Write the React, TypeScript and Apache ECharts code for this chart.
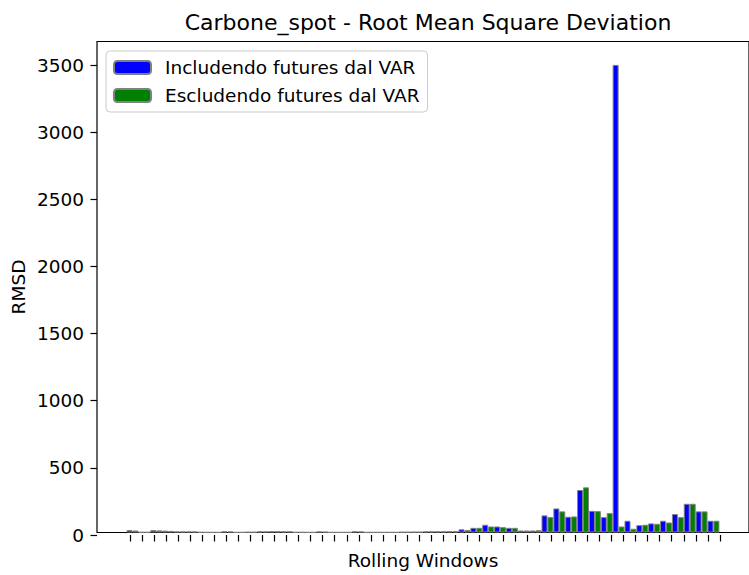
import React, { useEffect, useRef } from "react";
import * as echarts from "echarts";

const windowIndex = [
  0, 1, 2, 3, 4, 5, 6, 7, 8, 9, 10, 11, 12, 13, 14, 15, 16, 17, 18, 19, 20, 21, 22, 23, 24,
  25, 26, 27, 28, 29, 30, 31, 32, 33, 34, 35, 36, 37, 38, 39, 40, 41, 42, 43, 44, 45, 46, 47, 48, 49,
];

const includendoFutures = [
  18, 3, 18, 14, 8, 8, 3, 2, 9, 2, 4, 9, 10, 9, 3, 2, 8, 2, 2, 9, 2, 2, 2, 4, 5,
  9, 9, 10, 24, 35, 58, 45, 35, 15, 15, 128, 180, 118, 318, 162, 115, 3500, 88, 55, 68, 88, 138, 215, 158, 88,
];

const escludendoFutures = [
  15, 3, 16, 12, 8, 8, 2, 2, 8, 2, 4, 9, 10, 9, 3, 2, 6, 2, 2, 8, 2, 2, 2, 4, 5,
  9, 9, 10, 18, 35, 45, 40, 35, 15, 17, 115, 158, 120, 338, 160, 145, 45, 28, 58, 65, 75, 115, 215, 158, 88,
];

const yTickMax = 3500;
const yTickStep = 500;

const FONT = "DejaVu Sans";
const FS = 18.5;

export default function App() {
  const ref = useRef<HTMLDivElement>(null);

  useEffect(() => {
    if (!ref.current) return;
    const chart = echarts.init(ref.current, undefined, { renderer: "svg" });

    // matplotlib-like layout: xlim [-2.75, 52.25], ylim [0, 3675]
    const gridLeft = 97;
    const gridWidth = 662;
    const gridTop = 41.5;
    const gridHeight = 493.5;
    const xMin = -2.75;
    const xMax = 52.25;
    const yMax = 3675;
    const pxPerX = gridWidth / (xMax - xMin);
    const pxPerY = gridHeight / yMax;
    const firstIdx = windowIndex[0];
    const lastIdx = windowIndex[windowIndex.length - 1];
    const tickGridLeft = gridLeft + (firstIdx - xMin) * pxPerX;
    const tickGridWidth = (lastIdx - firstIdx) * pxPerX;
    const yTickGridHeight = yTickMax * pxPerY;
    const yTickGridTop = gridTop + gridHeight - yTickGridHeight;

    const tickLine = { color: "#000", width: 1.2 };

    chart.setOption({
      animation: false,
      backgroundColor: "#ffffff",
      graphic: [
        {
          type: "text",
          x: gridLeft + gridWidth / 2,
          y: 22,
          style: {
            text: "Carbone_spot - Root Mean Square Deviation",
            font: `22px '${FONT}'`,
            fill: "#000",
            textAlign: "center",
            textVerticalAlign: "middle",
          },
        },
      ],
      grid: [
        {
          left: gridLeft,
          top: gridTop,
          width: gridWidth,
          height: gridHeight,
          show: true,
          borderColor: "#000",
          borderWidth: 1.2,
          backgroundColor: "transparent",
        },
        { left: tickGridLeft, top: gridTop, width: tickGridWidth, height: gridHeight },
        { left: gridLeft, top: yTickGridTop, width: gridWidth, height: yTickGridHeight },
      ],
      legend: {
        orient: "vertical",
        left: 106,
        top: 51,
        itemWidth: 37,
        itemHeight: 13,
        itemGap: 9,
        padding: [7, 8, 7, 7],
        backgroundColor: "rgba(255,255,255,0.8)",
        borderColor: "#cccccc",
        borderWidth: 1,
        borderRadius: 4,
        textStyle: { fontFamily: FONT, fontSize: FS, color: "#000", padding: [0, 0, 0, 9] },
        data: ["Includendo futures dal VAR", "Escludendo futures dal VAR"],
      },
      xAxis: [
        {
          gridIndex: 0,
          type: "value",
          min: xMin,
          max: xMax,
          name: "Rolling Windows",
          nameLocation: "middle",
          nameGap: 28,
          nameTextStyle: { fontFamily: FONT, fontSize: FS, color: "#000", verticalAlign: "middle" },
          axisLine: { show: false },
          axisTick: { show: false },
          axisLabel: { show: false },
          splitLine: { show: false },
        },
        {
          gridIndex: 1,
          type: "value",
          min: firstIdx,
          max: lastIdx,
          interval: 1,
          axisLine: { show: false },
          axisTick: { show: true, length: 6.5, lineStyle: tickLine },
          axisLabel: { show: false },
          splitLine: { show: false },
        },
        {
          gridIndex: 2,
          type: "value",
          show: false,
        },
      ],
      yAxis: [
        {
          gridIndex: 0,
          type: "value",
          min: 0,
          max: yMax,
          name: "RMSD",
          nameLocation: "middle",
          nameGap: 79,
          nameTextStyle: { fontFamily: FONT, fontSize: FS, color: "#000", verticalAlign: "middle" },
          axisLine: { show: false },
          axisTick: { show: false },
          axisLabel: { show: false },
          splitLine: { show: false },
        },
        {
          gridIndex: 1,
          type: "value",
          show: false,
        },
        {
          gridIndex: 2,
          type: "value",
          min: 0,
          max: yTickMax,
          interval: yTickStep,
          axisLine: { show: false },
          axisTick: { show: true, length: 6.5, lineStyle: tickLine },
          axisLabel: {
            margin: 13,
            fontFamily: FONT,
            fontSize: FS,
            color: "#000",
            formatter: (v: number) => String(v),
          },
          splitLine: { show: false },
        },
      ],
      series: [
        {
          name: "Includendo futures dal VAR",
          type: "bar",
          xAxisIndex: 0,
          yAxisIndex: 0,
          barWidth: 6,
          barGap: "-100%",
          itemStyle: { color: "#0000ff", borderColor: "#808080", borderWidth: 1 },
          data: windowIndex.map((w, i) => [w, includendoFutures[i]]),
        },
        {
          name: "Escludendo futures dal VAR",
          type: "bar",
          xAxisIndex: 0,
          yAxisIndex: 0,
          barWidth: 6,
          barGap: "-100%",
          itemStyle: { color: "#008000", borderColor: "#808080", borderWidth: 1 },
          data: windowIndex.map((w, i) => [w + 0.5, escludendoFutures[i]]),
        },
      ],
    });
    return () => chart.dispose();
  }, []);

  return (
    <div
      ref={ref}
      style={{ position: "fixed", left: 0, top: 0, width: 749, height: 575, background: "#fff" }}
    />
  );
}
